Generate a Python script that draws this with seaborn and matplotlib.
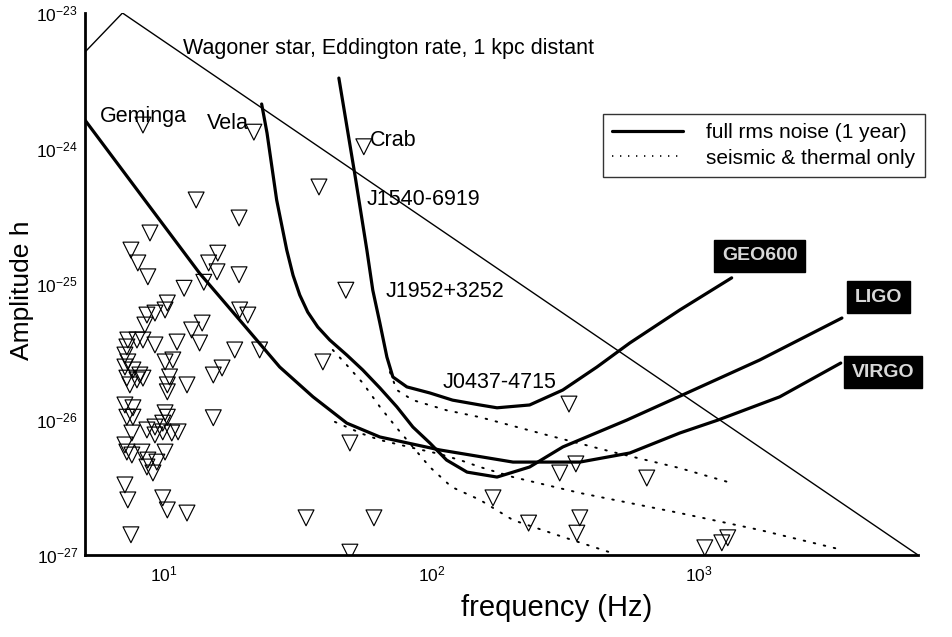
import numpy as np
import pandas as pd
import matplotlib
matplotlib.use("Agg")
import matplotlib.pyplot as plt
import seaborn as sns
from matplotlib.lines import Line2D

# ---------------- data (frequency in Hz, amplitude h) ----------------
wagoner_freq = [5.07, 7.0, 6600]
wagoner_amp = [5.15e-24, 1.0e-23, 1.0e-27]

geo_freq = [45.1, 51.8, 57.4, 60.4, 64.2, 68.2, 71.8, 81.0, 98.7, 120, 152, 176, 233, 310, 416, 552, 849, 1327]
geo_amp = [3.31e-24, 6.37e-25, 1.78e-25, 9.0e-26, 5.15e-26, 2.89e-26, 2.06e-26, 1.74e-26, 1.57e-26,
           1.39e-26, 1.28e-26, 1.22e-26, 1.28e-26, 1.65e-26, 2.44e-26, 3.67e-26, 6.43e-26, 1.11e-25]

ligo_freq = [23.2, 24.3, 26.4, 28.8, 30.4, 32.2, 34.5, 37.6, 41.7, 48.3, 55.4, 64.2, 74.3, 85.3, 98.7, 114,
             136, 176, 233, 310, 538, 871, 1690, 3428]
ligo_amp = [2.13e-24, 1.30e-24, 4.17e-25, 1.78e-25, 1.16e-25, 8.3e-26, 6.2e-26, 4.82e-26, 3.86e-26,
            2.99e-26, 2.32e-26, 1.71e-26, 1.24e-26, 8.8e-27, 6.71e-27, 5.02e-27, 4.09e-27, 3.76e-27,
            4.46e-27, 6.27e-27, 9.9e-27, 1.52e-26, 2.75e-26, 5.61e-26]

virgo_freq = [5.07, 8.87, 13.6, 19.2, 27.1, 36.1, 48.3, 64.2, 107.6, 202, 359, 552, 849, 1178, 2007, 3394]
virgo_amp = [1.62e-24, 3.70e-25, 1.20e-25, 5.42e-26, 2.44e-26, 1.47e-26, 9.4e-27, 7.43e-27, 5.96e-27,
             4.85e-27, 4.85e-27, 5.66e-27, 7.95e-27, 9.9e-27, 1.47e-26, 2.61e-26]

geo_st_freq = [70.0, 74.3, 85.3, 114, 152, 270, 477, 849, 1283]
geo_st_amp = [2.24e-26, 1.65e-26, 1.39e-26, 1.17e-26, 1.04e-26, 7.69e-27, 5.75e-27, 4.38e-27, 3.46e-27]

ligo_st_freq = [42.8, 48.3, 55.4, 64.2, 74.3, 85.3, 98.7, 119, 152, 202, 310, 477]
ligo_st_amp = [3.26e-26, 2.52e-26, 1.86e-26, 1.24e-26, 8.65e-27, 6.27e-27, 4.46e-27, 3.18e-27,
               2.55e-27, 1.81e-27, 1.36e-27, 1.03e-27]

virgo_st_freq = [43.6, 55.4, 64.2, 85.3, 107.6, 131, 152, 202, 359, 849, 1690, 3311]
virgo_st_amp = [9.6e-27, 7.82e-27, 7.06e-27, 6.17e-27, 5.56e-27, 4.94e-27, 4.46e-27, 3.76e-27,
                2.87e-27, 2.04e-27, 1.53e-27, 1.11e-27]

pulsar_freq = [8.35, 21.7, 55.9, 38.0, 13.2, 19.1, 8.87, 7.53, 7.99, 8.71, 15.9, 14.7, 15.8, 19.1, 11.9,
               14.1, 47.9, 10.3, 10.1, 9.26, 8.64, 19.2, 20.6, 8.49, 7.33, 7.27, 7.93, 8.35, 9.26, 11.2,
               12.7, 13.9, 13.6, 18.4, 22.8, 7.15, 7.33, 7.15, 7.66, 8.13, 7.27, 7.46, 7.93, 8.35, 10.1,
               10.8, 10.5, 10.3, 10.3, 12.2, 15.3, 16.5, 39.3, 7.15, 7.66, 7.27, 7.66, 10.1, 10.3, 9.9,
               15.3, 7.59, 8.64, 9.26, 9.9, 10.7, 11.3, 9.26, 7.15, 7.27, 7.59, 8.28, 8.71, 9.41, 10.1,
               8.64, 9.10, 49.6, 7.15, 7.33, 9.9, 10.3, 12.2, 34.0, 61.0, 7.53, 49.6, 327, 347, 302,
               639, 170, 359, 231, 350, 1053, 1219, 1283]
pulsar_amp = [1.49e-24, 1.32e-24, 1.03e-24, 5.2e-25, 4.17e-25, 3.07e-25, 2.38e-25, 1.78e-25, 1.43e-25,
              1.13e-25, 1.69e-25, 1.43e-25, 1.23e-25, 1.17e-25, 9.3e-26, 1.03e-25, 9.0e-26, 7.24e-26,
              6.43e-26, 6.1e-26, 5.9e-26, 6.43e-26, 5.9e-26, 4.98e-26, 3.86e-26, 3.43e-26, 3.86e-26,
              3.86e-26, 3.55e-26, 3.73e-26, 4.58e-26, 5.15e-26, 3.67e-26, 3.26e-26, 3.26e-26, 2.99e-26,
              2.66e-26, 2.44e-26, 2.32e-26, 2.13e-26, 2.02e-26, 1.80e-26, 1.96e-26, 2.02e-26, 2.66e-26,
              2.75e-26, 2.06e-26, 1.80e-26, 1.60e-26, 1.80e-26, 2.13e-26, 2.40e-26, 2.66e-26, 1.28e-26,
              1.22e-26, 1.04e-26, 1.04e-26, 1.12e-26, 1.04e-26, 9.4e-27, 1.03e-26, 7.95e-27, 8.37e-27,
              8.8e-27, 8.1e-27, 7.95e-27, 8.1e-27, 7.69e-27, 6.49e-27, 5.75e-27, 5.47e-27, 5.75e-27,
              5.02e-27, 4.85e-27, 5.75e-27, 4.46e-27, 4.03e-27, 6.71e-27, 3.29e-27, 2.55e-27, 2.64e-27,
              2.15e-27, 2.04e-27, 1.88e-27, 1.88e-27, 1.41e-27, 1.05e-27, 1.30e-26, 4.70e-27, 4.03e-27,
              3.70e-27, 2.64e-27, 1.88e-27, 1.72e-27, 1.45e-27, 1.13e-27, 1.23e-27, 1.34e-27]

x_ticks = [10, 100, 1000]
x_ticklabels = ['10$^{1}$', '10$^{2}$', '10$^{3}$']
y_ticks = [1e-27, 1e-26, 1e-25, 1e-24, 1e-23]
y_ticklabels = ['10$^{-27}$', '10$^{-26}$', '10$^{-25}$', '10$^{-24}$', '10$^{-23}$']

legend_labels = ['full rms noise (1 year)', 'seismic & thermal only']

# ---------------- style ----------------
sns.set_style("white")
plt.rcParams['font.family'] = ['Liberation Sans', 'DejaVu Sans']
plt.rcParams['mathtext.fontset'] = 'custom'
plt.rcParams['mathtext.rm'] = 'Liberation Sans'
plt.rcParams['mathtext.it'] = 'Liberation Sans:italic'
plt.rcParams['mathtext.bf'] = 'Liberation Sans:bold'
for key in ['text.color', 'axes.labelcolor', 'xtick.color', 'ytick.color', 'axes.edgecolor']:
    plt.rcParams[key] = 'black'

fig = plt.figure(figsize=(9.53, 6.37), dpi=100)
ax = fig.add_axes([85 / 953, 82 / 637, 833 / 953, 542 / 637])
ax.set_xscale('log')
ax.set_yscale('log')

thick = 2.3
dot_style = (0, (0.8, 4.5))

def curve(fx, fy, **kw):
    df = pd.DataFrame({'f': fx, 'h': fy})
    sns.lineplot(data=df, x='f', y='h', sort=False, estimator=None, ax=ax, color='black', **kw)

curve(wagoner_freq, wagoner_amp, linewidth=1.0)
curve(geo_freq, geo_amp, linewidth=thick)
curve(ligo_freq, ligo_amp, linewidth=thick)
curve(virgo_freq, virgo_amp, linewidth=thick)
for fx, fy in [(geo_st_freq, geo_st_amp), (ligo_st_freq, ligo_st_amp), (virgo_st_freq, virgo_st_amp)]:
    curve(fx, fy, linewidth=1.4, linestyle=dot_style, dash_capstyle='round')

sns.scatterplot(x=pulsar_freq, y=pulsar_amp, marker='v', s=130, color='white',
                edgecolor='black', linewidth=0.85, ax=ax, zorder=3)
ax.collections[-1].set_facecolor('none')

ax.set_xlim(5.07, 6600)
ax.set_ylim(1e-27, 1e-23)
ax.set_xticks(x_ticks)
ax.set_xticklabels(x_ticklabels)
ax.set_yticks(y_ticks)
ax.set_yticklabels(y_ticklabels)
ax.yaxis.set_minor_locator(matplotlib.ticker.NullLocator())
ax.tick_params(axis='both', which='major', direction='in', length=3, width=1, labelsize=12.5, pad=7,
               colors='black')
ax.tick_params(axis='x', which='minor', direction='in', length=2, width=0.8)
ax.tick_params(axis='y', which='major', pad=5)
ax.set_xlabel('')
ax.set_ylabel('')
for side in ['top', 'right']:
    ax.spines[side].set_visible(False)
for side in ['left', 'bottom']:
    ax.spines[side].set_linewidth(2.0)
    ax.spines[side].set_color('black')

# ---------------- annotations ----------------
fs = 15.5
ax.text(11.8, 5.5e-24, 'Wagoner star, Eddington rate, 1 kpc distant', fontsize=fs, ha='left', va='center')
ax.text(5.77, 1.71e-24, 'Geminga', fontsize=fs, ha='left', va='center')
ax.text(14.5, 1.54e-24, 'Vela', fontsize=fs, ha='left', va='center')
ax.text(59.0, 1.15e-24, 'Crab', fontsize=fs, ha='left', va='center')
ax.text(57.4, 4.17e-25, 'J1540-6919', fontsize=fs, ha='left', va='center')
ax.text(67.6, 8.73e-26, 'J1952+3252', fontsize=fs, ha='left', va='center')
ax.text(110, 1.89e-26, 'J0437-4715', fontsize=fs, ha='left', va='center')

box = dict(boxstyle='square,pad=0.4', facecolor='black', edgecolor='black')
ax.text(1690, 1.61e-25, 'GEO600', fontsize=14, fontweight='bold', color='#d8d8d8',
        ha='center', va='center', bbox=box)
ax.text(4707, 8.0e-26, 'LIGO', fontsize=14, fontweight='bold', color='#d8d8d8',
        ha='center', va='center', bbox=box)
ax.text(4873, 2.24e-26, 'VIRGO', fontsize=14, fontweight='bold', color='#d8d8d8',
        ha='center', va='center', bbox=box)

fig.text(22 / 953, 1 - 290 / 637, 'Amplitude h', rotation=90, fontsize=19, ha='center', va='center')
fig.text(557 / 953, 1 - 608 / 637, 'frequency (Hz)', fontsize=21, ha='center', va='center')

handles = [Line2D([], [], color='black', linewidth=thick),
           Line2D([], [], color='black', linewidth=1.2, linestyle=(0, (0.8, 4.0)))]
leg = ax.legend(handles, legend_labels, loc='upper left', bbox_to_anchor=(603 / 953, 1 - 114 / 637),
                bbox_transform=fig.transFigure, frameon=True, fancybox=False, fontsize=15,
                handlelength=3.4, handletextpad=1.1, borderaxespad=0, borderpad=0.45,
                labelspacing=0.3)
leg.get_frame().set_edgecolor('black')
leg.get_frame().set_linewidth(1.0)
leg.get_frame().set_facecolor('white')

fig.savefig('out.png', dpi=100)
